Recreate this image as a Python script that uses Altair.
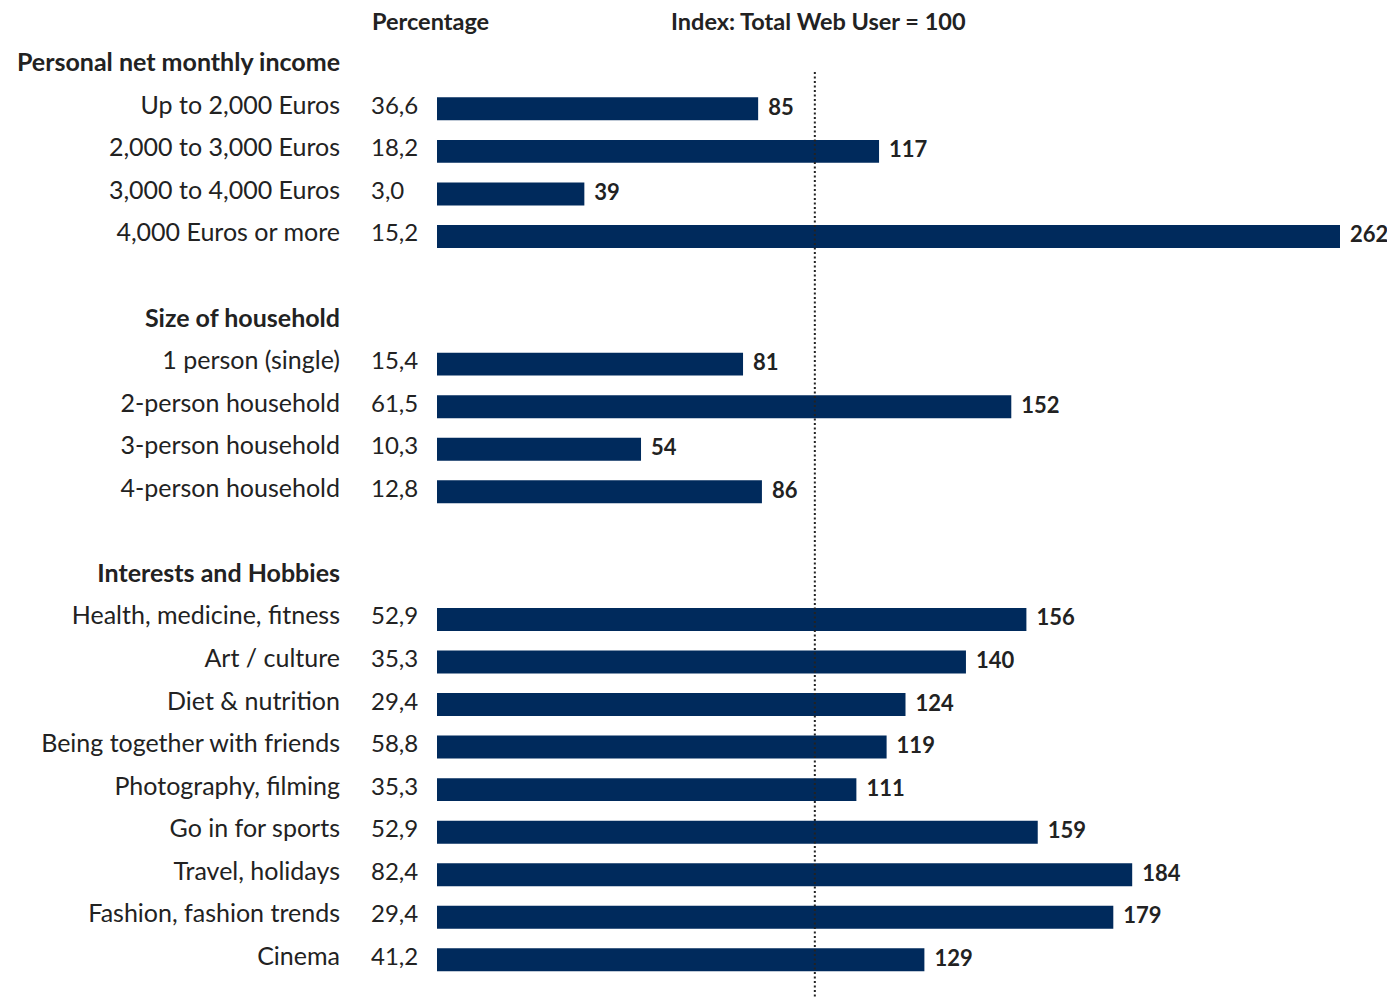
import altair as alt
import pandas as pd

# ---- data ----
income_header = "Personal net monthly income"
income_labels = ["Up to 2,000 Euros", "2,000 to 3,000 Euros", "3,000 to 4,000 Euros", "4,000 Euros or more"]
income_pct = [36.6, 18.2, 3.0, 15.2]
income_idx = [85, 117, 39, 262]

household_header = "Size of household"
household_labels = ["1 person (single)", "2-person household", "3-person household", "4-person household"]
household_pct = [15.4, 61.5, 10.3, 12.8]
household_idx = [81, 152, 54, 86]

interests_header = "Interests and Hobbies"
interests_labels = ["Health, medicine, fitness", "Art / culture", "Diet & nutrition",
                    "Being together with friends", "Photography, filming", "Go in for sports",
                    "Travel, holidays", "Fashion, fashion trends", "Cinema"]
interests_pct = [52.9, 35.3, 29.4, 58.8, 35.3, 52.9, 82.4, 29.4, 41.2]
interests_idx = [156, 140, 124, 119, 111, 159, 184, 179, 129]

col_header_pct = "Percentage"
col_header_idx = "Index: Total Web User = 100"
reference_index = 100

groups = [
    (income_header, income_labels, income_pct, income_idx),
    (household_header, household_labels, household_pct, household_idx),
    (interests_header, interests_labels, interests_pct, interests_idx),
]

rows = []
for gi, (header, labels, pcts, idxs) in enumerate(groups):
    rows.append({"key": f"r{len(rows):02d}", "type": "header", "label": header, "pct": "", "idx": None})
    for lab, p, v in zip(labels, pcts, idxs):
        rows.append({"key": f"r{len(rows):02d}", "type": "item", "label": lab,
                     "pct": f"{p:.1f}".replace(".", ","), "idx": v})
    if gi < len(groups) - 1:
        rows.append({"key": f"r{len(rows):02d}", "type": "blank", "label": "", "pct": "", "idx": None})

df = pd.DataFrame(rows)
keys = list(df["key"])

FONT = "Lato"
TEXT = "#222222"
NAVY = "#002a5c"

yscale = alt.Scale(domain=keys, range=[37.0, 973.1], paddingInner=0.46, paddingOuter=0.23)
xscale = alt.Scale(domain=[0, 239], range=[429, 1332], clamp=True)
Y = alt.Y("key:N", scale=yscale, axis=None, sort=keys)

base = alt.Chart(df)

bars = base.transform_filter("datum.type == 'item'").mark_bar(color=NAVY).encode(
    x=alt.X("idx:Q", scale=xscale, axis=None),
    y=Y,
)

idx_text = base.transform_filter("datum.type == 'item'").mark_text(
    align="left", baseline="middle", dx=10, dy=-1, font=FONT, fontSize=22, fontWeight="bold", color=TEXT
).encode(
    x=alt.X("idx:Q", scale=xscale, axis=None),
    y=Y,
    text="idx:Q",
)

item_labels = base.transform_filter("datum.type == 'item'").mark_text(
    align="right", baseline="middle", dy=-3, font=FONT, fontSize=25, color=TEXT
).encode(
    x=alt.value(332),
    y=Y,
    text="label:N",
)

pct_labels = base.transform_filter("datum.type == 'item'").mark_text(
    align="left", baseline="middle", dy=-2, font=FONT, fontSize=24, color=TEXT
).encode(
    x=alt.value(363),
    y=Y,
    text="pct:N",
)

header_labels = base.transform_filter("datum.type == 'header'").mark_text(
    align="right", baseline="middle", dy=-3, font=FONT, fontSize=25, fontWeight="bold", color=TEXT
).encode(
    x=alt.value(332),
    y=Y,
    text="label:N",
)

col_df = pd.DataFrame({"text": [col_header_pct, col_header_idx], "xpos": [364, 663]})
col_headers = alt.Chart(col_df).mark_text(
    align="left", baseline="middle", font=FONT, fontSize=23.5, fontWeight="bold", color=TEXT
).encode(
    x=alt.X("xpos:Q", scale=None, axis=None),
    y=alt.value(15),
    text="text:N",
)

rule = alt.Chart(pd.DataFrame({"ref": [reference_index]})).mark_rule(
    color=TEXT, strokeWidth=2, strokeDash=[2, 2.5]
).encode(
    x=alt.X("ref:Q", scale=xscale, axis=None),
    y=alt.value(64),
    y2=alt.value(1000),
)

chart = alt.layer(bars, rule, idx_text, item_labels, pct_labels, header_labels, col_headers).properties(
    width=1379, height=990, padding=0, background="white",
    autosize=alt.AutoSizeParams(type="none"),
).resolve_scale(x="independent").configure_view(strokeWidth=0, stroke="transparent")

chart.save("out.html", embed_options={"renderer": "svg", "actions": False})
